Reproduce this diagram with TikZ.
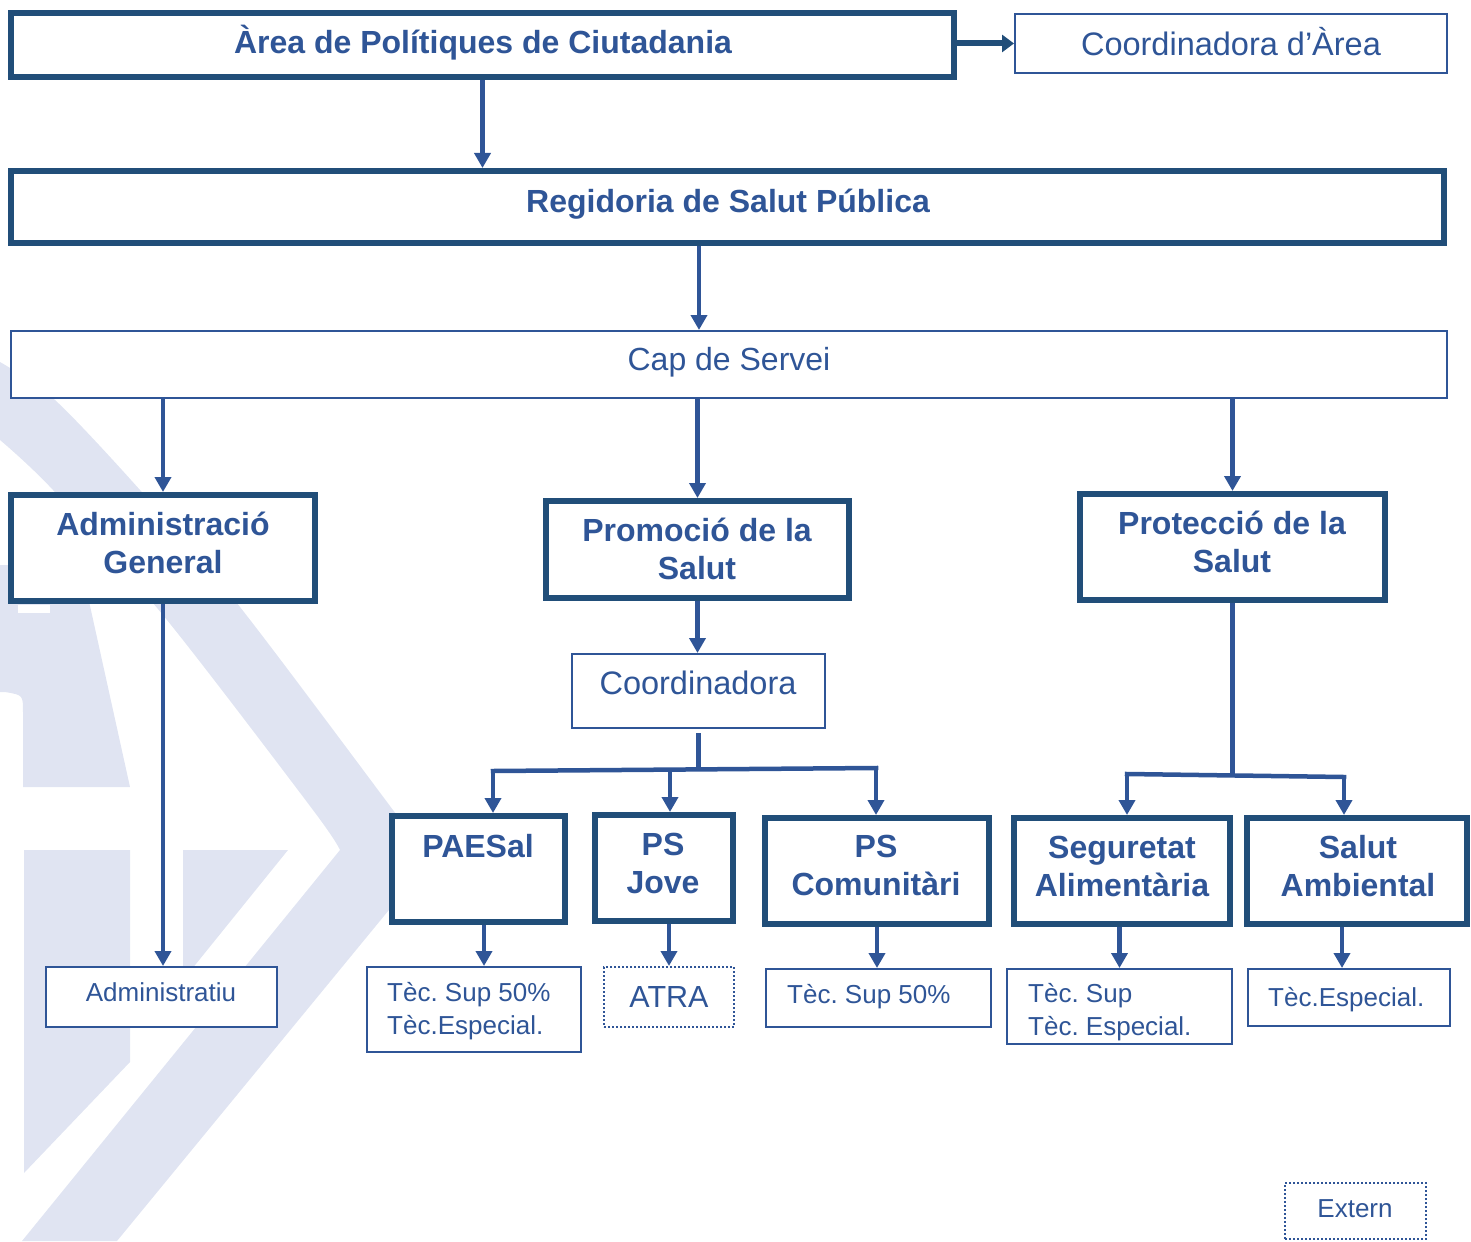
\documentclass[tikz,border=0pt]{standalone}
\usepackage{fontspec}
\setmainfont{Liberation Sans}
\usetikzlibrary{arrows.meta}
\definecolor{navy}{RGB}{33,78,121}
\definecolor{txt}{RGB}{47,85,151}
\definecolor{wmark}{RGB}{224,228,242}
\tikzset{
  thickbox/.style={draw=navy, line width=6pt, fill=white, inner sep=0pt},
  thinbox/.style={draw=txt, line width=2pt, fill=white, inner sep=0pt},
  dotbox/.style={thinbox, dash pattern=on 2pt off 2pt},
  bt/.style={text=txt, font=\fontsize{32}{38}\selectfont\bfseries, align=center, inner sep=0pt},
  rt/.style={text=txt, font=\fontsize{32.5}{38}\selectfont, align=center, inner sep=0pt},
  st/.style={text=txt, font=\fontsize{26}{33}\selectfont, align=left, inner sep=0pt},
  arr/.style={draw=txt, line width=4.5pt, -{Triangle[width=16pt,length=15pt]}},
  ln/.style={draw=txt, line width=4.5pt},
  wm/.style={fill=wmark, draw=none}
}
\frenchspacing
\begin{document}
\begin{tikzpicture}[x=1pt,y=-1pt]
\useasboundingbox (0,0) rectangle (1471,1241);
% ---------- watermark ----------
\fill[wm] plot[smooth] coordinates {(0,362) (55,400) (140,490) (240,607) (393,810) (430,860)}
  -- (117,1241) -- (22,1241) -- (340,850)
  -- plot[smooth] coordinates {(340,850) (313,810) (167,620) (53,490) (0,440)} -- cycle;
\fill[wm] (0,565) -- (81,565) -- (130,787) -- (23,787) -- (23,712)
  .. controls (23,695) .. (5,692) -- (0,692) -- cycle;
\fill[white] (18,605) rectangle (50,613);
\fill[wm] (24,850) -- (130,850) -- (130,1062) -- (24,1173) -- cycle;
\fill[wm] (183,850) -- (288,850) -- (183,980) -- cycle;
% ---------- boxes ----------
\node[thickbox, minimum width=943pt, minimum height=64pt] (area) at (482.5,45) {};
\node[thinbox, minimum width=432pt, minimum height=59pt] (carea) at (1231,43.5) {};
\node[thickbox, minimum width=1433pt, minimum height=72pt] (reg) at (727.5,207) {};
\node[thinbox, minimum width=1436pt, minimum height=67pt] (cap) at (729,364.5) {};
\node[thickbox, minimum width=304pt, minimum height=106pt] (ag) at (163,548) {};
\node[thickbox, minimum width=303pt, minimum height=97pt] (pds) at (697.5,549.5) {};
\node[thickbox, minimum width=305pt, minimum height=106pt] (prs) at (1232.5,547) {};
\node[thinbox, minimum width=253pt, minimum height=74pt] (coord) at (698.5,691) {};
\node[thickbox, minimum width=173pt, minimum height=106pt] (paesal) at (478.5,869) {};
\node[thickbox, minimum width=138pt, minimum height=106pt] (jove) at (664,868) {};
\node[thickbox, minimum width=224pt, minimum height=106pt] (psc) at (877,871) {};
\node[thickbox, minimum width=216pt, minimum height=106pt] (seg) at (1122,871) {};
\node[thickbox, minimum width=220pt, minimum height=106pt] (sa) at (1357,871) {};
\node[thinbox, minimum width=231pt, minimum height=60pt] (adm) at (161.5,997) {};
\node[thinbox, minimum width=214pt, minimum height=85pt] (tec1) at (474,1009.5) {};
\node[dotbox, minimum width=130pt, minimum height=60pt] (atra) at (669,997) {};
\node[thinbox, minimum width=225pt, minimum height=58pt] (tec3) at (878.5,998) {};
\node[thinbox, minimum width=225pt, minimum height=75pt] (tec4) at (1119.5,1006.5) {};
\node[thinbox, minimum width=202pt, minimum height=57pt] (tec5) at (1349,997.5) {};
\node[dotbox, minimum width=141pt, minimum height=56pt] (ext) at (1355.5,1211) {};
% ---------- texts ----------
\node[bt] (area-t) at (483,43) {Àrea de Polítiques de Ciutadania};
\node[rt] (carea-t) at (1231,42) {Coordinadora d’Àrea};
\node[bt] (reg-t) at (728,204) {Regidoria de Salut Pública};
\node[rt, font=\fontsize{32}{38}\selectfont] (cap-t) at (729,362) {Cap de Servei};
\node[bt] (ag-t) at (163,543) {Administració\\General};
\node[bt] (pds-t) at (697,549) {Promoció de la\\Salut};
\node[bt] (prs-t) at (1232,542) {Protecció de la\\Salut};
\node[rt] (coord-t) at (698,683) {Coordinadora};
\node[bt] (paesal-t) at (478,846) {PAESal};
\node[bt] (jove-t) at (663,863.5) {PS\\Jove};
\node[bt] (psc-t) at (876,865.5) {PS\\Comunitàri};
\node[bt] (seg-t) at (1122,866) {Seguretat\\Alimentària};
\node[bt] (sa-t) at (1358,866) {Salut\\Ambiental};
\node[st, align=center] (adm-t) at (161,992) {Administratiu};
\node[st, anchor=west] (tec1-t) at (387,1011) {Tèc. Sup 50\%\\Tèc.Especial.};
\node[rt, font=\fontsize{30.5}{36}\selectfont] (atra-t) at (669,997) {ATRA};
\node[st, anchor=west] (tec3-t) at (787,997) {Tèc. Sup 50\%};
\node[st, anchor=west] (tec4-t) at (1028,1012) {Tèc. Sup\\Tèc. Especial.};
\node[st, anchor=west] (tec5-t) at (1268,1000) {Tèc.Especial.};
\node[st, align=center] (ext-t) at (1355,1209) {Extern};
% ---------- connectors ----------
\draw[draw=navy, line width=6pt, -{Triangle[width=17pt,length=12pt]}] (area.east |- carea.west) -- (carea.west);
\draw[arr] (area.south) -- (area.south |- reg.north);
\draw[arr] ([xshift=-28.5pt]reg.south) -- ([xshift=-30pt]cap.north);
\draw[arr] (ag.north |- cap.south) -- (ag.north);
\draw[arr] (pds.north |- cap.south) -- (pds.north);
\draw[arr] (prs.north |- cap.south) -- (prs.north);
\draw[arr] (ag.south) -- (ag.south |- adm.north);
\draw[arr] (pds.south) -- (pds.south |- coord.north);
% Promocio group
\coordinate (pb1) at (493,771);
\coordinate (pb2) at (670,769.5);
\coordinate (pb3) at (876,768);
\draw[ln] ([yshift=-4pt]coord.south) -- (coord.south |- pb2);
\draw[ln, line cap=rect] (pb1) -- (pb3);
\draw[arr] (pb1) -- (pb1 |- paesal.north);
\draw[arr] (pb2) -- (pb2 |- jove.north);
\draw[arr] (pb3) -- (pb3 |- psc.north);
% Proteccio group
\coordinate (qb1) at (1127,774);
\coordinate (qb2) at (1344,777);
\draw[ln] (prs.south) -- (prs.south |- qb1);
\draw[ln, line cap=rect] (qb1) -- (qb2);
\draw[arr] (qb1) -- (qb1 |- seg.north);
\draw[arr] (qb2) -- (qb2 |- sa.north);
% bottom level
\draw[arr] ([xshift=5.5pt]paesal.south) -- ([xshift=10pt]tec1.north);
\draw[arr] (atra.north |- jove.south) -- (atra.north);
\draw[arr] (psc.south) -- (psc.south |- tec3.north);
\draw[arr] (tec4.north |- seg.south) -- (tec4.north);
\draw[arr] ([xshift=-15pt]sa.south) -- ([xshift=-7pt]tec5.north);
\end{tikzpicture}
\end{document}
